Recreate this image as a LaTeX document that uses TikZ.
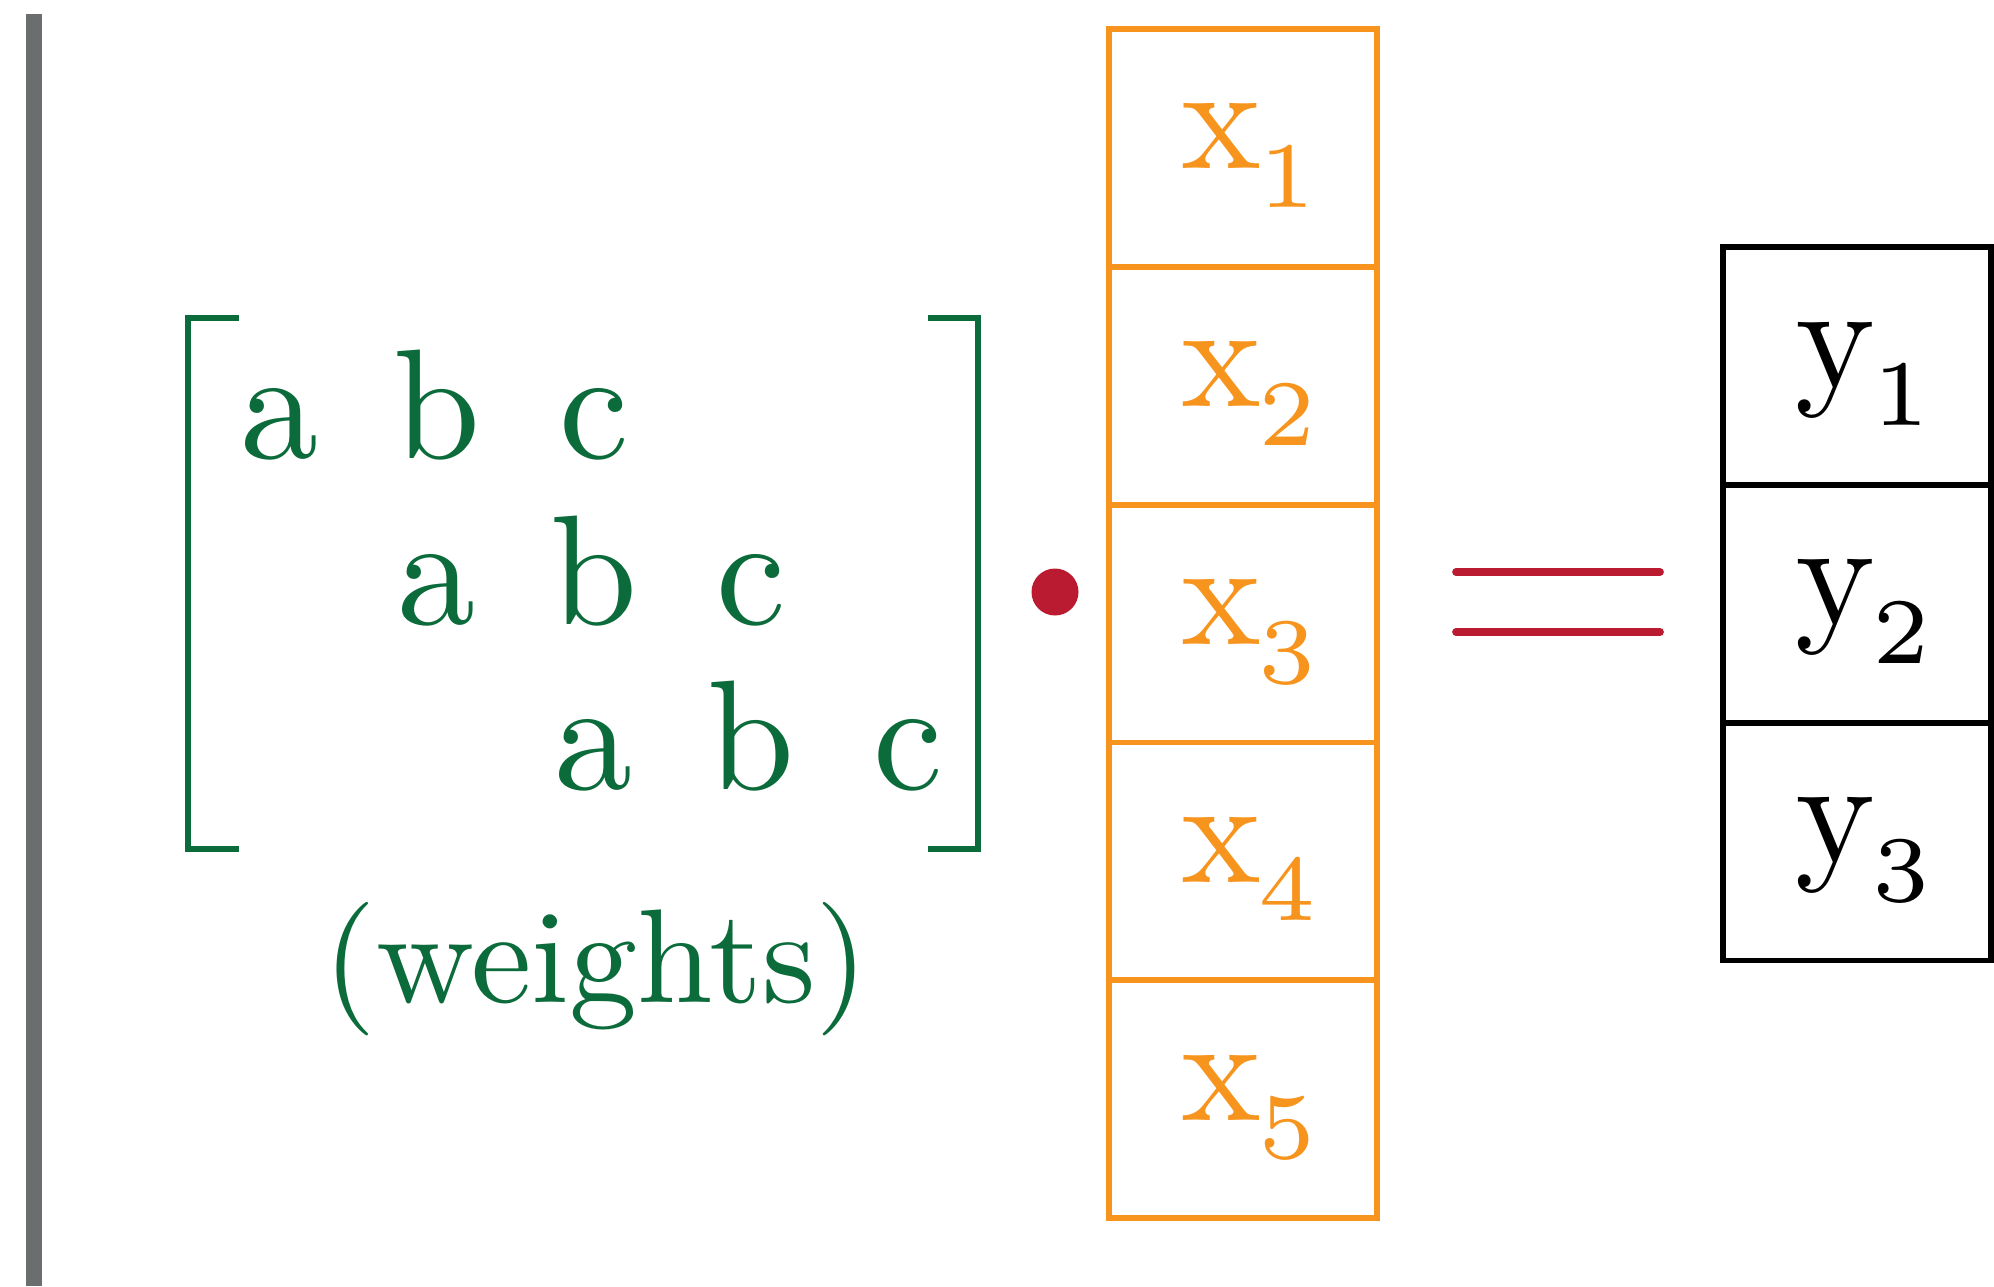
\documentclass[tikz,border=0pt]{standalone}
\usepackage{graphicx}
\usetikzlibrary{matrix,positioning}
\definecolor{wgreen}{RGB}{12,107,58}
\definecolor{xorange}{RGB}{247,148,30}
\definecolor{eqred}{RGB}{186,27,48}
\definecolor{bargray}{RGB}{106,110,110}
\newcommand{\mx}[1]{\scalebox{4.45}{#1}}
\newcommand{\vecent}[2]{\kern0.12cm\scalebox{4.3}{#1\kern-0.2pt\raisebox{-2.55pt}{\fontsize{6.2}{7}\selectfont #2}}}
\begin{document}
\begin{tikzpicture}
   \tikzstyle{xb}=[draw=xorange,text=xorange,line width=1.7pt,minimum width=2.68cm,minimum height=2.378cm,text height=0.8cm,text depth=0.38cm,inner sep=0,outer sep=0]
   \tikzstyle{yb}=[xb,draw=black,text=black]
   \tikzstyle{bra}=[wgreen,line width=1.9pt]
   \tikzstyle{eq}=[eqred,line width=2.2pt,line cap=round]

   \useasboundingbox (0,0) rectangle (19.94,12.86);
   \draw [bargray,line width=4.5pt] (0.34,12.72) -- (0.34,0);

   \matrix (w) at (5.94,6.89) [matrix of nodes,nodes={text=wgreen,minimum width=1.57cm,text height=1.1cm,text depth=0.555cm,inner sep=0}] {
      \mx{a} & \mx{b} & \mx{c} & & \\
      & \mx{a} & \mx{b} & \mx{c} & \\
      & & \mx{a} & \mx{b} & \mx{c} \\
   };
   \draw [bra] (2.39,9.68) -| (1.88,4.37) -- (2.39,4.37);
   \draw [bra] (9.28,9.68) -| (9.78,4.37) -- (9.28,4.37);
   \node (wl) [anchor=base,text=wgreen] at (5.96,2.84) {\scalebox{3.87}[3.8]{(weights)}};

   \node (dot) [circle,fill=eqred,minimum size=0.47cm,inner sep=0] at (10.55,6.94) {};

   \node (x1) [xb] at (12.43,11.38) {\vecent{x}{1}};
   \node (x2) [xb,below=0pt of x1] {\vecent{x}{2}};
   \node (x3) [xb,below=0pt of x2] {\vecent{x}{3}};
   \node (x4) [xb,below=0pt of x3] {\vecent{x}{4}};
   \node (x5) [xb,below=0pt of x4] {\vecent{x}{5}};

   \draw [eq] (14.56,7.14) -- (16.60,7.14);
   \draw [eq] (14.56,6.54) -- (16.60,6.54);

   \node (y1) [yb] at (18.57,9.20) {\vecent{y}{1}};
   \node (y2) [yb,below=0pt of y1] {\vecent{y}{2}};
   \node (y3) [yb,below=0pt of y2] {\vecent{y}{3}};
\end{tikzpicture}
\end{document}
